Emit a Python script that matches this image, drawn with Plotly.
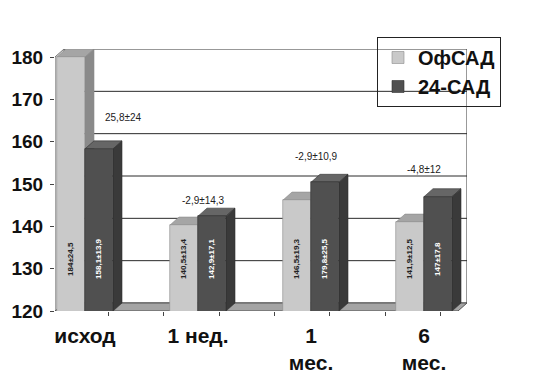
import plotly.graph_objects as go

# ---- data ----
categories = ["исход", "1 нед.", "1<br>мес.", "6<br>мес."]
series_names = ["ОфСАД", "24-САД"]
ofsad = [180, 140.3, 146.2, 141.0]
sad24 = [158.3, 142.4, 150.4, 147.0]
ofsad_labels = ["184±24,5", "140,5±13,4", "146,5±19,3", "141,9±12,5"]
sad24_labels = ["158,1±13,9", "142,9±17,1", "179,8±25,5", "147±17,8"]
delta_labels = ["25,8±24", "-2,9±14,3", "-2,9±10,9", "-4,8±12"]
delta_y = [165.8, 146.2, 156.6, 153.5]
y_ticks = [120, 130, 140, 150, 160, 170, 180]

# ---- geometry / style ----
W, H = 541, 378
L, R, T, B = 55, 74, 49, 67
PX_X = 113.0
X0C = 85 - L  # px of category 0 from left of plot
x_left = -X0C / PX_X
x_right = x_left + (W - L - R) / PX_X
Y_MIN, Y_MAX = 120, 180
PX_Y = 254 / 60.0
dx = 9 / PX_X
dy = 8 / PX_Y
bw = 28 / PX_X
FONT = "Arial, Liberation Sans, sans-serif"

LIGHT = dict(front="#c9c9c9", top="#a5a5a5", side="#8a8a8a", edge="#8c8c8c")
DARK = dict(front="#505050", top="#666666", side="#3a3a3a", edge="#303030")

fig = go.Figure()
xs = list(range(len(categories)))
fig.add_trace(go.Bar(x=xs, y=ofsad, name=f"<b>{series_names[0]}</b>", offset=-bw, width=bw,
                     marker=dict(color=LIGHT["front"], line=dict(color=LIGHT["edge"], width=0.6))))
fig.add_trace(go.Bar(x=xs, y=sad24, name=f"<b>{series_names[1]}</b>", offset=0, width=bw,
                     marker=dict(color=DARK["front"], line=dict(color=DARK["edge"], width=0.6))))

shapes = []
def poly(pts, fill, line="#444", lw=0.8):
    p = "M " + " L ".join(f"{a},{b}" for a, b in pts) + " Z"
    shapes.append(dict(type="path", path=p, xref="x", yref="y", fillcolor=fill,
                       line=dict(color=line, width=lw), layer="below"))

# back wall
poly([(x_left + dx, Y_MIN + dy), (x_left + dx, Y_MAX + dy), (x_right, Y_MAX + dy), (x_right, Y_MIN + dy)],
     "white", "#333", 1)
for t in y_ticks[1:-1]:
    shapes.append(dict(type="line", xref="x", yref="y", x0=x_left + dx, x1=x_right,
                       y0=t + dy, y1=t + dy, line=dict(color="#2a2a2a", width=1), layer="below"))
# left wall
poly([(x_left, Y_MIN), (x_left, Y_MAX), (x_left + dx, Y_MAX + dy), (x_left + dx, Y_MIN + dy)], "#d8d8d8", "#777", 1)
# floor
poly([(x_left, Y_MIN), (x_right - dx, Y_MIN), (x_right, Y_MIN + dy), (x_left + dx, Y_MIN + dy)], "#a4a4a4", "#555", 1)

def faces(vals, off, c):
    for i, v in enumerate(vals):
        a = i + off
        b = a + bw
        poly([(a, v), (b, v), (b + dx, v + dy), (a + dx, v + dy)], c["top"], c["edge"], 0.6)
        poly([(b, Y_MIN), (b, v), (b + dx, v + dy), (b + dx, Y_MIN + dy)], c["side"], c["edge"], 0.6)

faces(ofsad, -bw, LIGHT)
faces(sad24, 0, DARK)

ann = []
LABEL_Y = 132.3
for i in xs:
    ann.append(dict(x=i - bw / 2, y=LABEL_Y, text=f"<b>{ofsad_labels[i]}</b>", textangle=-90, showarrow=False,
                    font=dict(family=FONT, size=8, color="#222")))
    ann.append(dict(x=i + bw / 2, y=LABEL_Y, text=f"<b>{sad24_labels[i]}</b>", textangle=-90, showarrow=False,
                    font=dict(family=FONT, size=8, color="white")))
dx_ann = [0.345, 1.053, 2.053, 3.0]
for i in xs:
    ann.append(dict(x=dx_ann[i], y=delta_y[i], text=delta_labels[i], showarrow=False,
                    font=dict(family=FONT, size=10, color="#222")))

fig.update_layout(
    width=W, height=H, margin=dict(l=L, r=R, t=T, b=B, autoexpand=False),
    paper_bgcolor="white", plot_bgcolor="white",
    shapes=shapes, annotations=ann, bargap=0,
    showlegend=True,
    legend=dict(x=(377 - L) / (W - L - R), y=(H - B - 37) / (H - T - B), xanchor="left", yanchor="top",
                bgcolor="rgba(0,0,0,0)", bordercolor="#222", borderwidth=1,
                font=dict(family=FONT, size=20, color="#111"), traceorder="normal",
                itemwidth=30, tracegroupgap=0),
    xaxis=dict(range=[x_left, x_right], tickmode="array", tickvals=xs, automargin=False,
               ticktext=[f"<b>{c}</b>" for c in categories], ticks="", showgrid=False, zeroline=False,
               showline=False, tickfont=dict(family=FONT, size=21, color="#111"),
               ticklabelstandoff=10,
               minor=dict(ticks="outside", tickmode="linear", tick0=-0.283, dtick=0.49, ticklen=4,
                          tickcolor="#444", showgrid=False)),
    yaxis=dict(range=[Y_MIN, Y_MAX + dy], tickmode="array", tickvals=y_ticks, automargin=False,
               ticktext=[f"<b>{t}</b>" for t in y_ticks], ticks="outside", ticklen=4, tickcolor="#444",
               showgrid=False, zeroline=False, showline=False, ticklabelstandoff=3,
               tickfont=dict(family=FONT, size=19, color="#111")),
    font=dict(family=FONT),
)
fig.write_html("out.html", config={"displayModeBar": False},
               post_script="document.body.style.margin='0px';")
